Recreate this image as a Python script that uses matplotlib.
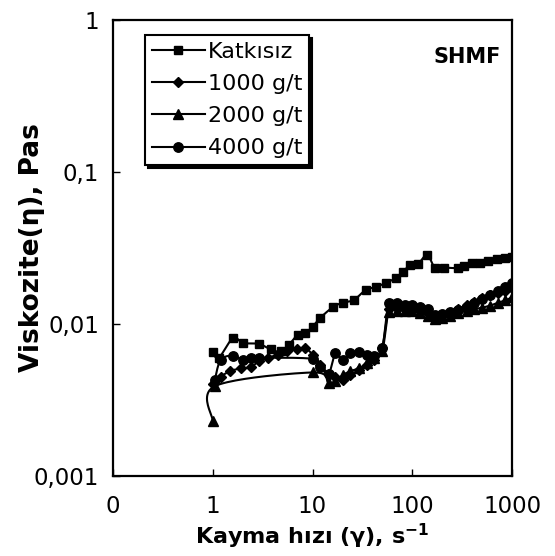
import numpy as np
import matplotlib
matplotlib.use("Agg")
import matplotlib.pyplot as plt
from matplotlib.lines import Line2D

plt.rcParams['font.family'] = ['DejaVu Sans']
plt.rcParams['mathtext.default'] = 'regular'

# ---------------- data ----------------
x_katkisiz = [1, 1.15, 1.6, 2.0, 2.9, 3.8, 4.8, 5.8, 7.1, 8.5, 10, 12, 16, 20, 26, 34, 43, 54,
              68, 81, 95, 115, 141, 170, 210, 288, 330, 400, 480, 580, 710, 850, 1000]
y_katkisiz = [0.0065, 0.0060, 0.0081, 0.0075, 0.0074, 0.0068, 0.0066, 0.0073, 0.0085, 0.0087,
              0.0096, 0.0110, 0.0129, 0.0138, 0.0144, 0.0167, 0.0175, 0.0186, 0.0200, 0.0220,
              0.0245, 0.0250, 0.0285, 0.0233, 0.0235, 0.0233, 0.0240, 0.0252, 0.0252, 0.0260,
              0.0268, 0.0270, 0.0276]

x_1000 = [1, 1.2, 1.5, 1.9, 2.4, 2.9, 3.6, 4.5, 5.6, 7, 8.5,
          10, 12, 14.5, 17, 20, 24, 29, 35, 41, 50,
          58, 70, 85, 100, 120, 145, 170, 200, 240, 290, 350, 420, 500, 600, 720, 860, 1000]
y_1000 = [0.0040, 0.0045, 0.0049, 0.0051, 0.0052, 0.0057, 0.0060, 0.0063, 0.0066, 0.0068, 0.0069,
          0.0063, 0.0054, 0.0047, 0.0045, 0.0043, 0.0046, 0.0050, 0.0054, 0.0058, 0.0070,
          0.0125, 0.0127, 0.0126, 0.0125, 0.0122, 0.0118, 0.0112, 0.0113, 0.0118, 0.0125,
          0.0133, 0.0140, 0.0148, 0.0155, 0.0160, 0.0165, 0.0172]

x_2000 = [1, 1.05, 10, 14.5, 17, 20, 24, 29, 35, 41, 50,
          58, 70, 85, 100, 120, 145, 170, 200, 240, 290, 350, 420, 500, 600, 720, 860, 1000]
y_2000 = [0.0023, 0.0039, 0.0048, 0.0041, 0.0042, 0.0046, 0.0049, 0.0051, 0.0055, 0.0060, 0.0066,
          0.0120, 0.0122, 0.0122, 0.0121, 0.0118, 0.0113, 0.0108, 0.0110, 0.0113, 0.0118,
          0.0122, 0.0125, 0.0128, 0.0132, 0.0138, 0.0143, 0.0150]

x_4000 = [1.05, 1.2, 1.6, 2.0, 2.4, 2.9,
          10, 12, 14.5, 17, 20, 24, 29, 35, 41, 50,
          58, 70, 85,
          100, 120, 145, 170, 200, 240, 290, 350, 420, 500, 600, 720, 860, 1000]
y_4000 = [0.0043, 0.0058, 0.0062, 0.0058, 0.0060, 0.0060,
          0.0059, 0.0052, 0.0047, 0.0064, 0.0058, 0.0064, 0.0065, 0.0063, 0.0062, 0.0070,
          0.0137, 0.0137, 0.0133,
          0.0133, 0.0130, 0.0125, 0.0115, 0.0117, 0.0120, 0.0124, 0.0130, 0.0138, 0.0145,
          0.0155, 0.0165, 0.0175, 0.0186]

series_names = ['Katkısız', '1000 g/t', '2000 g/t', '4000 g/t']
x_ticks = [0.1, 1, 10, 100, 1000]
x_ticklabels = ['0', '1', '10', '100', '1000']
y_ticks = [0.001, 0.01, 0.1, 1]
y_ticklabels = ['0,001', '0,01', '0,1', '1']


def smooth(xs, ys, n=24):
    """Catmull-Rom smoothing in display-like (log) space, like Excel smoothed lines."""
    u = np.log10(np.asarray(xs, float)) * 100.0
    v = np.log10(np.asarray(ys, float)) * 152.0
    P = np.column_stack([u, v])
    P = np.vstack([P[0], P, P[-1]])
    out = []
    t = np.linspace(0, 1, n)[:, None]
    for i in range(1, len(P) - 2):
        p0, p1, p2, p3 = P[i - 1], P[i], P[i + 1], P[i + 2]
        c1 = p1 + (p2 - p0) / 6.0
        c2 = p2 - (p3 - p1) / 6.0
        seg = ((1 - t) ** 3) * p1 + 3 * ((1 - t) ** 2) * t * c1 + 3 * (1 - t) * t ** 2 * c2 + t ** 3 * p2
        out.append(seg)
    S = np.vstack(out)
    return 10 ** (S[:, 0] / 100.0), 10 ** (S[:, 1] / 152.0)


fig = plt.figure(figsize=(5.55, 5.56), dpi=100)
ax = fig.add_axes([113 / 555, 80 / 556, 399 / 555, 456 / 556])
ax.set_xscale('log')
ax.set_yscale('log')
ax.set_xlim(0.1, 1000)
ax.set_ylim(0.001, 1)

styles = [
    (x_katkisiz, y_katkisiz, 's', 6.0),
    (x_1000, y_1000, 'D', 4.6),
    (x_2000, y_2000, '^', 6.5),
    (x_4000, y_4000, 'o', 6.8),
]
handles = []
for (xs, ys, mk, ms), name in zip(styles, series_names):
    sx, sy = smooth(xs, ys)
    ax.plot(sx, sy, color='black', lw=1.5, solid_capstyle='round', zorder=3)
    ax.plot(xs, ys, linestyle='none', marker=mk, ms=ms, color='black', zorder=4)
    handles.append(Line2D([], [], color='black', lw=1.5, marker=mk, ms=ms, label=name))

ax.set_xticks(x_ticks)
ax.set_xticklabels(x_ticklabels)
ax.set_yticks(y_ticks)
ax.set_yticklabels(y_ticklabels)
ax.minorticks_off()
ax.tick_params(axis='both', direction='in', length=5, width=1, labelsize=16.5, colors='black')
ax.tick_params(axis='x', pad=14)
ax.tick_params(axis='y', pad=10)
for s in ax.spines.values():
    s.set_linewidth(1.6)

ax.set_xlabel(r'Kayma hızı (γ), s$^{-1}$', fontsize=16, fontweight='bold')
ax.set_ylabel('Viskozite(η), Pas', fontsize=19, fontweight='bold')
ax.xaxis.set_label_coords(0.5, -0.1)
ax.yaxis.set_label_coords(-0.17, 0.5)

ax.text(0.887, 0.919, 'SHMF', transform=ax.transAxes, ha='center', va='center',
        fontsize=15, fontweight='bold')

leg = ax.legend(handles=handles, loc='upper left', bbox_to_anchor=(0.08, 0.967),
                borderaxespad=0, fontsize=16, handlelength=2.4, handletextpad=0.15,
                labelspacing=0.55, borderpad=0.3, frameon=True, fancybox=False,
                shadow={'color': 'black', 'alpha': 1})
leg.get_frame().set_edgecolor('black')
leg.get_frame().set_linewidth(1.5)

fig.savefig('out.png', dpi=100)
